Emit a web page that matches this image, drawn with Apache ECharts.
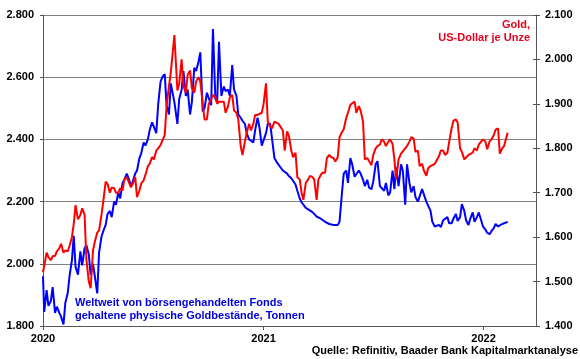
<!DOCTYPE html>
<html><head><meta charset="utf-8">
<script src="https://cdn.jsdelivr.net/npm/echarts@6/dist/echarts.min.js"></script>
<style>html,body{margin:0;padding:0;background:#fff}#c{width:580px;height:359px}</style>
</head><body><div id="c"></div>
<script>
const dates = [
'2020-01-01','2020-01-03','2020-01-07','2020-01-10','2020-01-14','2020-01-17','2020-01-21','2020-01-24','2020-01-28','2020-01-31',
'2020-02-04','2020-02-07','2020-02-11','2020-02-14','2020-02-18','2020-02-21','2020-02-24','2020-02-28',
'2020-03-03','2020-03-06','2020-03-10','2020-03-13','2020-03-17','2020-03-20','2020-03-24','2020-03-27','2020-03-31',
'2020-04-03','2020-04-07','2020-04-10','2020-04-14','2020-04-17','2020-04-21','2020-04-24','2020-04-28',
'2020-05-01','2020-05-05','2020-05-08','2020-05-12','2020-05-15','2020-05-19','2020-05-22','2020-05-26','2020-05-29',
'2020-06-02','2020-06-05','2020-06-09','2020-06-12','2020-06-16','2020-06-19','2020-06-23','2020-06-26','2020-06-30',
'2020-07-03','2020-07-07','2020-07-10','2020-07-14','2020-07-17','2020-07-21','2020-07-24','2020-07-28','2020-07-31',
'2020-08-06','2020-08-11','2020-08-14','2020-08-18','2020-08-21','2020-08-25','2020-08-28',
'2020-09-01','2020-09-04','2020-09-08','2020-09-11','2020-09-15','2020-09-18','2020-09-22','2020-09-25','2020-09-29',
'2020-10-02','2020-10-06','2020-10-09','2020-10-13','2020-10-16','2020-10-19','2020-10-23','2020-10-27','2020-10-30',
'2020-11-03','2020-11-06','2020-11-10','2020-11-13','2020-11-17','2020-11-20','2020-11-24','2020-11-27',
'2020-12-01','2020-12-04','2020-12-08','2020-12-11','2020-12-15','2020-12-18','2020-12-22','2020-12-25','2020-12-29',
'2021-01-01','2021-01-05','2021-01-08','2021-01-12','2021-01-15','2021-01-19','2021-01-22','2021-01-26','2021-01-29',
'2021-02-02','2021-02-05','2021-02-09','2021-02-12','2021-02-16','2021-02-19','2021-02-23','2021-02-26',
'2021-03-02','2021-03-05','2021-03-08','2021-03-12','2021-03-16','2021-03-19','2021-03-23','2021-03-26','2021-03-30',
'2021-04-02','2021-04-06','2021-04-09','2021-04-13','2021-04-16','2021-04-20','2021-04-23','2021-04-27','2021-04-30',
'2021-05-04','2021-05-07','2021-05-11','2021-05-14','2021-05-18','2021-05-21','2021-05-25','2021-05-28',
'2021-06-01','2021-06-04','2021-06-08','2021-06-11','2021-06-15','2021-06-18','2021-06-22','2021-06-25','2021-06-29',
'2021-07-02','2021-07-06','2021-07-09','2021-07-13','2021-07-16','2021-07-20','2021-07-23','2021-07-27','2021-07-30',
'2021-08-03','2021-08-06','2021-08-09','2021-08-13','2021-08-17','2021-08-20','2021-08-24','2021-08-27','2021-08-31',
'2021-09-03','2021-09-07','2021-09-10','2021-09-14','2021-09-17','2021-09-21','2021-09-24','2021-09-28',
'2021-10-01','2021-10-05','2021-10-08','2021-10-12','2021-10-15','2021-10-19','2021-10-22','2021-10-26','2021-10-29',
'2021-11-02','2021-11-05','2021-11-09','2021-11-12','2021-11-16','2021-11-19','2021-11-23','2021-11-26','2021-11-30',
'2021-12-03','2021-12-07','2021-12-10','2021-12-14','2021-12-17','2021-12-21','2021-12-24','2021-12-28','2021-12-31',
'2022-01-04','2022-01-07','2022-01-11','2022-01-14','2022-01-18','2022-01-21','2022-01-25','2022-01-28',
'2022-02-01','2022-02-04','2022-02-10'];

// ETF gold holdings, tonnes (left axis)
const etfTonnes = [
1960,1845,1915,1865,1880,1925,1842,1862,1842,1830,
1805,1874,1906,1960,2012,2090,1990,1965,
2040,1995,2050,2060,2030,1965,2000,1960,1905,
2035,2087,2105,2125,2160,2170,2150,2200,
2190,2230,2210,2260,2270,2290,2275,2250,2265,
2290,2300,2340,2355,2390,2380,2400,2430,2455,
2440,2420,2510,2585,2600,2610,2510,2480,2580,
2520,2450,2530,2560,2620,2540,2560,
2480,2520,2630,2620,2650,2680,2490,2500,2550,
2545,2510,2755,2530,2520,2714,2540,2570,2555,
2560,2540,2639,2560,2540,2480,2470,2460,
2450,2420,2400,2400,2390,2430,2470,2440,2380,
2385,2420,2450,2450,2455,2340,2330,2318,2312,
2300,2295,2290,2282,2275,2270,2255,2235,
2210,2198,2190,2180,2175,2170,2166,2160,2152,
2148,2145,2140,2135,2132,2128,2126,2125,2125,
2125,2135,2227,2290,2300,2260,2340,2320,
2280,2275,2300,2290,2270,2250,2270,2245,2240,
2265,2320,2330,2250,2250,2235,2260,2220,2230,
2300,2240,2310,2250,2320,2300,2190,2320,2260,
2230,2250,2215,2200,2200,2240,2235,2200,
2195,2170,2135,2120,2125,2125,2118,2140,2140,
2150,2130,2130,2145,2160,2138,2150,2192,2170,
2140,2125,2145,2165,2135,2150,2165,2140,2120,
2110,2100,2095,2105,2115,2128,2120,2125,
2128,2130,2135];

// Gold price, USD per ounce (right axis)
const goldUsd = [
1521,1535,1565,1555,1548,1557,1558,1568,1575,1585,
1565,1570,1568,1580,1600,1630,1672,1640,
1650,1665,1650,1550,1500,1485,1570,1590,1610,
1615,1650,1680,1725,1720,1700,1712,1710,
1700,1700,1710,1705,1730,1735,1725,1712,1720,
1735,1690,1705,1721,1728,1740,1760,1765,1780,
1775,1795,1800,1807,1810,1830,1895,1940,1970,
2055,1930,1945,2000,1940,1925,1965,
1975,1935,1925,1950,1960,1950,1900,1865,1865,
1900,1910,1920,1915,1900,1905,1905,1905,1880,
1895,1915,1920,1885,1880,1865,1805,1785,
1815,1835,1855,1840,1855,1875,1875,1878,1880,
1900,1946,1860,1850,1845,1860,1860,1855,1855,
1840,1795,1838,1828,1795,1780,1790,1735,
1730,1700,1684,1722,1730,1738,1735,1730,1684,
1730,1740,1745,1745,1778,1785,1780,1778,1770,
1780,1825,1836,1843,1868,1880,1898,1902,
1905,1880,1895,1885,1860,1775,1778,1778,1762,
1785,1800,1805,1808,1820,1815,1805,1815,1820,
1810,1775,1730,1775,1788,1785,1800,1805,1815,
1825,1822,1792,1795,1760,1765,1750,1738,
1755,1760,1758,1765,1768,1782,1795,1795,1785,
1790,1815,1845,1862,1865,1858,1800,1792,1775,
1778,1785,1782,1790,1800,1795,1808,1815,1820,
1815,1798,1815,1820,1830,1842,1845,1788,
1800,1805,1835];

const leftTicks = {min: 1800, max: 2800, step: 200};
const rightTicks = {min: 1400, max: 2100, step: 100};
const goldLabel = ['Gold,', 'US-Dollar je Unze'];
const etfLabel = ['Weltweit von börsengehandelten Fonds', 'gehaltene physische Goldbestände, Tonnen'];
const sourceText = 'Quelle: Refinitiv, Baader Bank Kapitalmarktanalyse';

const FONT = '"Liberation Sans", Arial, sans-serif';
const fmt = v => (v / 1000).toFixed(3);
const chart = echarts.init(document.getElementById('c'));
const labelStyle = {color: '#000', fontWeight: 'bold', fontSize: 11, fontFamily: FONT};

chart.setOption({
  animation: false,
  grid: {left: 43, right: 44, top: 15, bottom: 33},
  xAxis: {
    type: 'time', min: '2020-01-01', max: '2022-03-29',
    minInterval: 365 * 86400000, maxInterval: 366 * 86400000,
    axisLine: {lineStyle: {color: '#555', width: 1}},
    axisTick: {show: true, length: 4, lineStyle: {color: '#555'}},
    splitLine: {show: false},
    axisLabel: Object.assign({}, labelStyle, {
      margin: 7, showMaxLabel: false, hideOverlap: false,
      formatter: v => { const d = new Date(v); return (d.getMonth() === 0 && d.getDate() === 1) ? String(d.getFullYear()) : ''; }
    })
  },
  yAxis: [
    {type: 'value', position: 'left', min: leftTicks.min, max: leftTicks.max, interval: leftTicks.step,
     axisLine: {show: true, lineStyle: {color: '#555'}},
     axisTick: {show: true, length: 3, lineStyle: {color: '#555'}},
     splitLine: {show: true, lineStyle: {color: '#808080', width: 1}},
     axisLabel: Object.assign({}, labelStyle, {margin: 9, formatter: fmt})},
    {type: 'value', position: 'right', min: rightTicks.min, max: rightTicks.max, interval: rightTicks.step,
     axisLine: {show: true, lineStyle: {color: '#555'}},
     axisTick: {show: true, length: 4, lineStyle: {color: '#555'}},
     splitLine: {show: false},
     axisLabel: Object.assign({}, labelStyle, {margin: 9, formatter: fmt})},
    {type: 'value', position: 'right', min: rightTicks.min, max: rightTicks.max, interval: rightTicks.step,
     axisLine: {show: false},
     axisTick: {show: true, inside: true, length: 3, lineStyle: {color: '#555'}},
     splitLine: {show: false}, axisLabel: {show: false}}
  ],
  series: [
    {type: 'line', yAxisIndex: 0, showSymbol: false, symbol: 'none',
     lineStyle: {color: '#0000ff', width: 2}, itemStyle: {color: '#0000ff'},
     data: dates.map((d, i) => [d, etfTonnes[i]])},
    {type: 'line', yAxisIndex: 1, showSymbol: false, symbol: 'none',
     lineStyle: {color: '#ff0000', width: 2}, itemStyle: {color: '#ff0000'},
     data: dates.map((d, i) => [d, goldUsd[i]])}
  ],
  graphic: [
    {type: 'text', x: 530, y: 25, style: {text: goldLabel[0], fill: '#e8001c', font: 'bold 11px ' + FONT, textAlign: 'right', textVerticalAlign: 'middle'}},
    {type: 'text', x: 530, y: 38, style: {text: goldLabel[1], fill: '#e8001c', font: 'bold 11px ' + FONT, textAlign: 'right', textVerticalAlign: 'middle'}},
    {type: 'text', x: 75, y: 303, style: {text: etfLabel[0], fill: '#0000dd', font: 'bold 11px ' + FONT, textAlign: 'left', textVerticalAlign: 'middle'}},
    {type: 'text', x: 75, y: 316, style: {text: etfLabel[1], fill: '#0000dd', font: 'bold 11px ' + FONT, textAlign: 'left', textVerticalAlign: 'middle'}},
    {type: 'text', x: 578, y: 351, style: {text: sourceText, fill: '#000', font: 'bold 11px ' + FONT, textAlign: 'right', textVerticalAlign: 'middle'}}
  ]
});
</script></body></html>
